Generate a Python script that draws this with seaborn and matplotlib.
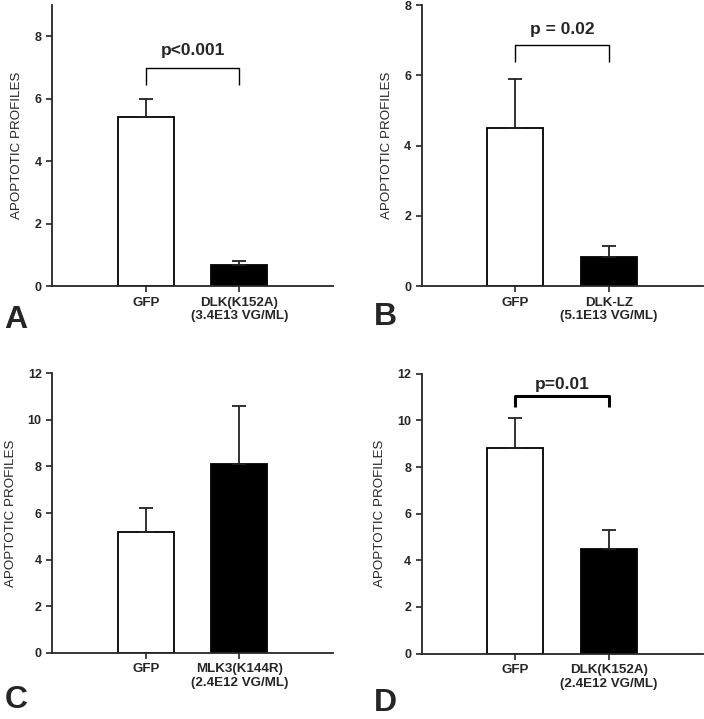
import matplotlib
matplotlib.use("Agg")
import matplotlib.pyplot as plt
import seaborn as sns

# panel data: (means, upper error)
labels_a = ["GFP", "DLK(K152A)\n(3.4E13 VG/ML)"]
means_a = [5.4, 0.67]
errs_a = [0.6, 0.13]

labels_b = ["GFP", "DLK-LZ\n(5.1E13 VG/ML)"]
means_b = [4.5, 0.84]
errs_b = [1.4, 0.29]

labels_c = ["GFP", "MLK3(K144R)\n(2.4E12 VG/ML)"]
means_c = [5.2, 8.1]
errs_c = [1.0, 2.5]

labels_d = ["GFP", "DLK(K152A)\n(2.4E12 VG/ML)"]
means_d = [8.8, 4.5]
errs_d = [1.3, 0.8]

sns.set_style("ticks")
plt.rcParams["font.family"] = ["Liberation Sans", "DejaVu Sans"]


def draw_panel(ax, labels, means, errs, ymax, yticks, letter, letter_y, bracket=None):
    sns.barplot(x=labels, y=means, hue=labels, palette=["white", "black"],
                edgecolor="black", linewidth=1.3, width=0.6, legend=False, ax=ax)
    ax.errorbar(range(len(means)), means, yerr=[[0] * len(errs), errs],
                fmt="none", ecolor="#222222", elinewidth=1.3, capsize=5, capthick=1.3)
    ax.set_xlim(-1, 2)
    ax.set_ylim(0, ymax)
    ax.set_yticks(yticks)
    ax.set_ylabel("APOPTOTIC PROFILES", fontsize=9.6, labelpad=8)
    ax.set_xlabel("")
    for lab in ax.get_yticklabels():
        lab.set_fontweight("bold")
        lab.set_fontsize(9)
    for lab in ax.get_xticklabels():
        lab.set_fontweight("bold")
        lab.set_fontsize(9.6)
    ax.tick_params(direction="out", length=4, width=1.2)
    for side in ["left", "bottom"]:
        ax.spines[side].set_linewidth(1.3)
    sns.despine(ax=ax)
    if bracket is not None:
        text, top, leg, ty, lw = bracket
        ax.plot([0, 0, 1, 1], [leg, top, top, leg], color="black", lw=lw,
                solid_capstyle="butt")
        ax.text(0.5, ty, text, ha="center", va="center", fontsize=12.5,
                fontweight="bold")
    ax.text(-0.17, letter_y, letter, transform=ax.transAxes, fontsize=23,
            fontweight="bold", ha="left", va="center")


fig = plt.figure(figsize=(7.04, 7.19), dpi=100)
ax_a = fig.add_axes([0.074, 0.602, 0.399, 0.391])
ax_b = fig.add_axes([0.599, 0.602, 0.399, 0.391])
ax_c = fig.add_axes([0.074, 0.092, 0.399, 0.389])
ax_d = fig.add_axes([0.599, 0.091, 0.399, 0.389])

draw_panel(ax_a, labels_a, means_a, errs_a, 9, [0, 2, 4, 6, 8], "A", -0.12,
           ("p<0.001", 6.98, 6.43, 7.55, 1.0))
draw_panel(ax_b, labels_b, means_b, errs_b, 8, [0, 2, 4, 6, 8], "B", -0.11,
           ("p = 0.02", 6.86, 6.38, 7.3, 1.0))
draw_panel(ax_c, labels_c, means_c, errs_c, 12, [0, 2, 4, 6, 8, 10, 12], "C", -0.17)
draw_panel(ax_d, labels_d, means_d, errs_d, 12, [0, 2, 4, 6, 8, 10, 12], "D", -0.175,
           ("p=0.01", 11.07, 10.6, 11.55, 2.2))

fig.savefig("out.png", dpi=100)
